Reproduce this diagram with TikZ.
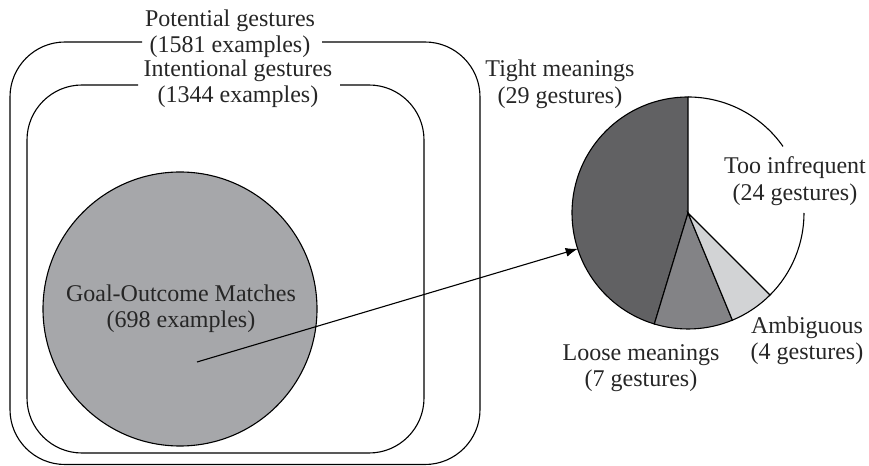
\documentclass[tikz,border=0pt]{standalone}
\usepackage{fontspec}
\setmainfont{Liberation Serif}
\usetikzlibrary{arrows.meta}
\definecolor{goalgray}{HTML}{A6A7AA}
\definecolor{tightgray}{HTML}{616163}
\definecolor{loosegray}{HTML}{838386}
\definecolor{ambgray}{HTML}{D2D3D5}
\tikzset{
  frame/.style={rounded corners=55bp, line width=1.1bp},
  lbl/.style={align=center, font=\fontsize{24bp}{26.5bp}\selectfont, inner sep=0pt, text=black!85},
  slice/.style={line width=1.1bp},
  conn/.style={line width=1.1bp, -{Latex[length=12bp,width=9bp]}}
}
\begin{document}
\begin{tikzpicture}[x=1bp,y=-1bp]
\useasboundingbox (0,0) rectangle (869,466);
% outer box
\draw[frame] (142,42) -- (10,42) -- (10,464.5) -- (480,464.5) -- (480,42) -- (322,42);
\node[lbl] (potential) at (230,33.5) {Potential gestures\\(1581 examples)};
% inner box
\draw[frame] (138,85) -- (27,85) -- (27,453) -- (424,453) -- (424,85) -- (340,85);
\node[lbl] (intentional) at (238,83.5) {Intentional gestures\\(1344 examples)};
% goal circle
\node[circle, draw, line width=1.1bp, fill=goalgray, minimum size=274bp, inner sep=0pt] (goal) at (180,309) {};
\node[lbl] (goaltext) at (181,308.5) {Goal-Outcome Matches\\(698 examples)};
\coordinate (gs) at (197,362);
% pie
\node[circle, minimum size=232bp, inner sep=0pt, outer sep=0pt] (pie) at (688,213) {};
\begin{scope}[shift={(688,213)}, yscale=-1]
  \fill[white] (0,0) -- (315:116) arc[start angle=315, end angle=450, radius=116] -- cycle;
  \filldraw[slice, fill=tightgray] (0,0) -- (90:116) arc[start angle=90, end angle=253.125, radius=116] -- cycle;
  \filldraw[slice, fill=loosegray] (0,0) -- (253.125:116) arc[start angle=253.125, end angle=292.5, radius=116] -- cycle;
  \filldraw[slice, fill=ambgray] (0,0) -- (292.5:116) arc[start angle=292.5, end angle=315, radius=116] -- cycle;
  \draw[slice] (90:116) arc[start angle=90, end angle=35, radius=116];
  \draw[slice] (0:116) arc[start angle=0, end angle=-45, radius=116];
\end{scope}
\node[lbl] (tight) at (560,84.5) {Tight meanings\\(29 gestures)};
\node[lbl] (infreq) at (795,181) {Too infrequent\\(24 gestures)};
\node[lbl] (amb) at (807,341) {Ambiguous\\(4 gestures)};
\node[lbl] (loose) at (641,368) {Loose meanings\\(7 gestures)};
% arrow
\draw[conn] (gs) -- (pie.198.4);
\end{tikzpicture}
\end{document}
